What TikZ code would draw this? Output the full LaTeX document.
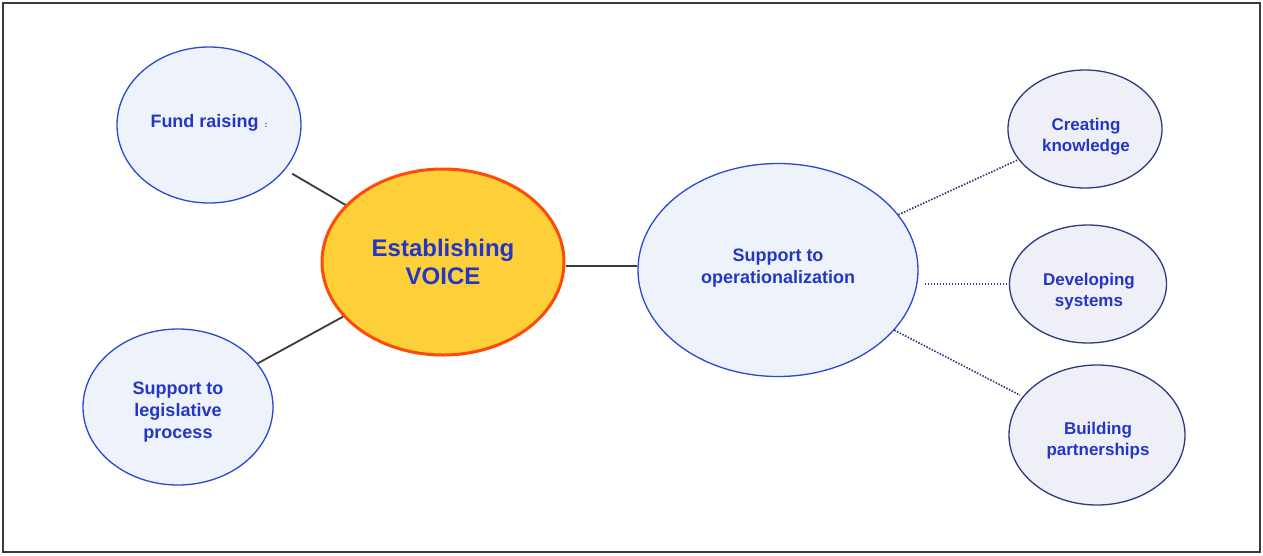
\documentclass[tikz,border=0pt]{standalone}
\usepackage{fontspec}
\setmainfont{Liberation Sans}
\usetikzlibrary{shapes.geometric}
\definecolor{txtblue}{HTML}{2436C4}
\definecolor{brightblue}{HTML}{2A48D2}
\definecolor{navy}{HTML}{2E3A7C}
\definecolor{pale}{HTML}{EEF2FB}
\definecolor{palegray}{HTML}{EFF0F7}
\definecolor{voicefill}{HTML}{FDD03A}
\definecolor{voiceborder}{HTML}{FF4A0A}
\definecolor{linegray}{HTML}{3A3A3A}
\tikzset{
  bubble/.style={ellipse, inner sep=0pt, draw=brightblue, line width=1.3pt, fill=pale},
  navybubble/.style={bubble, draw=navy, fill=palegray},
  lbl/.style={text=txtblue, font=\bfseries\fontsize{17}{21}\selectfont, align=center},
  solidlink/.style={draw=linegray, line width=1.8pt},
  dotlink/.style={draw=navy, line width=1.7pt, dash pattern=on 1.5pt off 1.5pt},
}
\begin{document}
\begin{tikzpicture}[x=1pt,y=-1pt]
\useasboundingbox (0,0) rectangle (1263,555);
\draw[draw=linegray, line width=2pt] (3,3) rectangle (1260,552);

\node[bubble, minimum width=184, minimum height=156] (fund) at (209,125) {};
\node[lbl, font=\bfseries\fontsize{18}{21}\selectfont] (fundt) at (209,123) {Fund raising {\fontsize{8}{8}\selectfont\,:}};

\node[bubble, minimum width=190, minimum height=156] (legis) at (178,407) {};
\node[lbl, font=\bfseries\fontsize{18}{22}\selectfont] (legist) at (178,412) {Support to\\legislative\\process};

\node[ellipse, inner sep=0pt, draw=voiceborder, line width=3pt, fill=voicefill,
      minimum width=242, minimum height=186] (voice) at (443,262) {};
\node[lbl, font=\bfseries\fontsize{24}{28}\selectfont] (voicet) at (443,262) {Establishing\\VOICE};

\node[bubble, minimum width=280, minimum height=213] (oper) at (778,270) {};
\node[lbl, font=\bfseries\fontsize{18}{22}\selectfont] (opert) at (778,268) {Support to\\operationalization};

\node[navybubble, minimum width=154, minimum height=118] (know) at (1085,129) {};
\node[lbl] (knowt) at (1086,137) {Creating\\knowledge};

\node[navybubble, minimum width=157, minimum height=118] (sys) at (1088,284) {};
\node[lbl] (syst) at (1089,292) {Developing\\systems};

\node[navybubble, minimum width=176, minimum height=140] (part) at (1097,435) {};
\node[lbl] (partt) at (1098,441) {Building\\partnerships};

\draw[solidlink, shorten <=8pt] (fund) -- (voice);
\draw[solidlink] (legis) -- (voice);
\coordinate (vo) at ([yshift=-4pt]voice.east);
\draw[solidlink] (vo) -- (vo -| oper.west);

\draw[dotlink] (oper) -- (know);
\draw[dotlink, shorten <=6pt] (oper.east |- sys.west) -- (sys.west);
\draw[dotlink, shorten >=3pt] (oper) -- (part);
\end{tikzpicture}
\end{document}
